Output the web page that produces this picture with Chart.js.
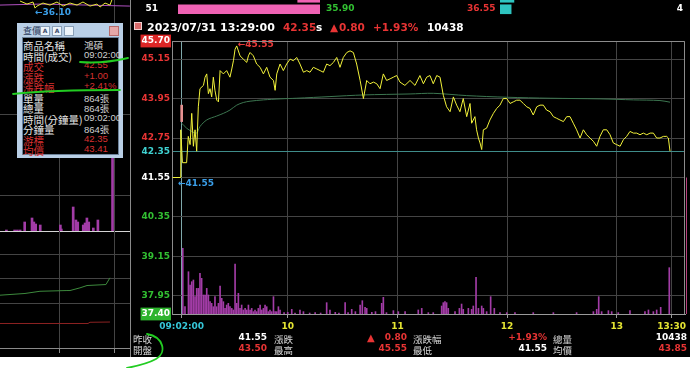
<!DOCTYPE html>
<html>
<head>
<meta charset="utf-8">
<script src="https://cdn.jsdelivr.net/npm/chart.js@4.4.1/dist/chart.umd.min.js"></script>
<style>
html, body { margin: 0; padding: 0; background: #fff; width: 690px; height: 368px; overflow: hidden; }
#win { position: absolute; left: 0; top: 0; width: 690px; height: 357px; background: #000; overflow: hidden; }
canvas { position: absolute; }
.t { position: absolute; white-space: nowrap; line-height: 12px; height: 12px; }
.num { font: bold 9px "DejaVu Sans", Verdana, sans-serif; }
.cjk { font: 9.5px "Noto Sans CJK TC", sans-serif; color: #d8d8d8; }
#box { position: absolute; left: 17px; top: 23px; width: 106px; height: 135px; background: #b9cfe6; }
#boxIn { position: absolute; left: 5px; top: 14px; width: 97px; height: 118px; background: #000; border: 1px solid #6d8299; box-sizing: border-box; }
.ico { position: absolute; top: 3px; width: 8px; height: 8px; border: 1px solid #8aa0b8; background: #eef4fa;
       font: bold 6px "DejaVu Sans"; color: #3a4a6a; line-height: 8px; text-align: center; }
#strokes { position: absolute; left: 0; top: 0; pointer-events: none; }
</style>
</head>
<body>
<div id="win">
  <canvas id="leftTop" width="130" height="232" style="left:0px;top:0px"></canvas>
  <canvas id="leftBot" width="130" height="126" style="left:0px;top:231px"></canvas>
  <div style="position:absolute;left:130px;top:0px;width:1px;height:357px;background:#8a8a8a"></div>
  <canvas id="bid" width="142" height="23" style="left:178px;top:-8px"></canvas>
  <canvas id="ask" width="142" height="23" style="left:500px;top:-8px"></canvas>
  <canvas id="main" width="560" height="305" style="left:130px;top:30px"></canvas>
  <div style="position:absolute;left:134px;top:22px;width:6px;height:6px;background:#d86a6a;border:1px solid #f0d0d0"></div>
  <div id="box">
    <div class="t" style="left:6px;top:1px;font:9px 'Noto Sans CJK TC';color:#2a3a5a">查價</div>
    <div class="ico" style="left:23px">A</div>
    <div class="ico" style="left:35px">A</div>
    <div class="ico" style="left:47px"></div>
    <div class="ico" style="left:92px;background:#e6a8a8;border-color:#b86a6a"></div>
    <div id="boxIn"></div>
  </div>
</div>
<svg id="strokes" width="690" height="368">
  <g fill="none" stroke="#22cc22" stroke-width="1.8" stroke-linecap="round">
    <path d="M80 62 Q102 64 128 58"/>
    <path d="M13 94 Q50 90 120 90"/>
    <path d="M147 334 C164 337 167 353 156 359 C147 364 137 366 127 368"/>
  </g>
</svg>
<script>
// main intraday chart, minutes after 09:00
const priceTimes = [
    -3, 1.1, 1.5, 2.4, 4.7, 5.6, 6.6, 7.5, 8.4, 9.3,
    10.2, 11.1, 12.0, 13.9, 14.8, 15.7, 16.6, 17.5, 18.4, 19.3,
    20.2, 21.2, 22.1, 23.0, 24.8, 26.6, 28.4, 29.4, 30.3, 31.2,
    32.1, 33.9, 35.7, 37.6, 38.5, 39.4, 41.2, 43.0, 44.9, 46.7,
    48.5, 50.3, 52.2, 53.1, 54.0, 55.8, 57.6, 59.4, 61.3, 63.1,
    64.9, 66.7, 68.6, 70.4, 72.2, 74.0, 75.9, 77.7, 79.5, 81.3,
    83.1, 85.0, 86.8, 88.6, 90.4, 92.3, 94.1, 95.9, 97.7, 99.6,
    101.4, 103.2, 105.0, 106.9, 108.7, 110.5, 112.3, 114.1, 116.0, 117.8,
    119.6, 121.4, 124.1, 126.9, 129.6, 132.3, 134.2, 136.0, 137.8, 139.6,
    141.5, 143.3, 145.1, 146.9, 148.8, 150.6, 152.4, 154.2, 156.0, 157.9,
    159.7, 160.6, 162.4, 163.3, 164.3, 165.2, 166.1, 167.0, 168.8, 170.6,
    172.5, 174.3, 176.1, 177.9, 179.8, 181.6, 183.4, 185.2, 187.0, 188.9,
    190.7, 192.5, 194.3, 196.2, 198.0, 199.8, 201.6, 203.5, 205.3, 207.1,
    208.9, 210.8, 212.6, 214.4, 216.2, 218.0, 219.9, 221.7, 223.5, 225.3,
    227.2, 229.0, 230.8, 232.6, 234.5, 236.3, 238.1, 239.9, 241.8, 243.6,
    245.4, 247.2, 249.1, 250.9, 252.7, 254.5, 256.4, 258.2, 260.0, 261.8,
    263.6, 265.5, 267.3, 268.2, 269.1
];
const prices = [
    41.55, 41.55, 43.00, 42.00, 42.00, 42.80, 42.55, 43.50, 42.50, 43.00,
    42.35, 43.70, 44.25, 44.35, 44.60, 44.70, 44.10, 44.25, 44.00, 44.60,
    44.20, 43.90, 43.85, 44.80, 44.70, 44.80, 44.60, 44.85, 45.10, 45.45,
    45.55, 45.25, 45.15, 45.05, 45.25, 45.35, 45.25, 45.00, 44.90, 44.70,
    44.90, 44.60, 44.50, 44.20, 44.70, 45.00, 44.80, 45.00, 45.15, 45.10,
    45.20, 45.00, 44.75, 44.80, 44.75, 44.90, 44.85, 44.80, 44.75, 45.00,
    44.95, 45.05, 45.20, 44.90, 45.20, 45.35, 45.40, 45.35, 45.00, 44.50,
    43.95, 44.50, 44.40, 44.45, 44.40, 44.25, 44.70, 44.50, 44.55, 44.60,
    44.65, 44.45, 44.35, 44.50, 44.35, 44.65, 44.40, 44.60, 44.65, 44.40,
    44.65, 44.60, 44.05, 43.70, 43.55, 44.00, 43.75, 43.55, 43.95, 43.40,
    43.80, 43.20, 43.40, 43.00, 42.75, 42.60, 42.40, 43.00, 43.05, 43.30,
    43.50, 43.65, 43.75, 43.95, 43.95, 43.80, 43.85, 43.90, 43.90, 43.80,
    43.70, 43.65, 43.45, 43.70, 43.75, 43.75, 43.60, 43.55, 43.40, 43.35,
    43.30, 43.25, 43.40, 43.40, 43.20, 43.00, 42.75, 43.00, 42.85, 42.75,
    42.65, 42.50, 42.80, 43.00, 43.00, 42.85, 42.60, 42.55, 42.50, 42.70,
    42.80, 42.95, 42.90, 42.90, 42.85, 42.90, 42.85, 42.90, 42.90, 42.75,
    42.75, 42.80, 42.80, 42.75, 42.35
];
const avgTimes = [2.0, 4.7, 7.5, 10.2, 12.0, 15.7, 21.2, 24.8, 28.4, 32.1, 35.7, 39.4, 46.7,
    55.8, 64.9, 83.1, 101.4, 126.9, 139.6, 157.9, 179.8, 203.5, 230.8, 249.1, 263.6, 269.1];
const avgPrices = [43.20, 43.05, 42.95, 42.90, 43.10, 43.30, 43.42, 43.50, 43.60, 43.75, 43.83, 43.87, 43.91,
    43.94, 43.96, 44.01, 44.06, 44.09, 44.11, 44.04, 43.99, 43.96, 43.94, 43.91, 43.89, 43.84];
const volTimes = [
    2.6, 3.8, 5.7, 6.6, 7.5, 8.4, 9.3, 10.2, 11.1, 12.0,
    12.9, 13.9, 14.8, 15.7, 16.6, 17.5, 18.4, 19.3, 20.2, 21.1,
    22.1, 23.0, 23.9, 24.8, 25.7, 26.6, 27.5, 28.4, 29.4, 30.3,
    31.2, 32.1, 33.0, 33.9, 34.8, 35.7, 36.7, 37.6, 38.5, 39.4,
    40.3, 41.2, 42.1, 43.0, 43.9, 44.9, 45.8, 46.7, 47.6, 48.5,
    49.4, 50.3, 51.2, 52.2, 53.1, 54.0, 54.9, 55.8, 58.0, 60.0,
    62.2, 64.0, 66.7, 68.6, 72.0, 75.0, 78.0, 81.3, 83.1, 86.0,
    88.0, 91.4, 93.0, 95.0, 97.0, 99.6, 100.8, 102.3, 103.2, 106.0,
    108.0, 111.4, 112.3, 114.0, 117.8, 120.5, 124.2, 131.4, 133.3, 136.9,
    139.6, 144.2, 145.1, 146.0, 146.9, 147.8, 151.5, 153.9, 155.1, 156.0,
    158.8, 160.6, 161.5, 163.0, 164.3, 166.1, 167.0, 168.8, 171.0, 173.0,
    176.1, 179.8, 184.3, 194.3, 205.3, 218.0, 227.2, 229.0, 230.1, 231.7,
    235.4, 237.2, 240.8, 247.2, 255.4, 257.3, 260.0, 261.8, 264.0, 268.7
];
const vols = [
    864, 96, 556, 381, 425, 447, 228, 337, 337, 534,
    469, 250, 250, 337, 250, 162, 140, 96, 228, 96,
    140, 368, 206, 162, 74, 118, 140, 96, 74, 53,
    657, 140, 272, 74, 118, 53, 74, 53, 118, 53,
    74, 31, 53, 31, 74, 118, 53, 74, 118, 96,
    31, 53, 31, 228, 31, 31, 96, 53, 18, 22,
    61, 13, 53, 31, 13, 18, 13, 149, 53, 22,
    13, 149, 18, 61, 31, 118, 175, 88, 74, 22,
    31, 140, 219, 18, 44, 31, 31, 53, 74, 18,
    18, 105, 149, 162, 149, 74, 31, 74, 131, 61,
    74, 61, 105, 482, 74, 105, 74, 31, 228, 74,
    18, 18, 18, 18, 18, 18, 31, 61, 228, 31,
    44, 31, 18, 44, 31, 53, 31, 53, 88, 609
];
const openBar = [43.25, 43.75];
const priceTicks = [45.70, 45.15, 43.95, 42.75, 42.35, 41.55, 40.35, 39.15, 37.95, 37.40];
const timeTicks = [2, 60, 120, 180, 240, 270];
const timeLabels = ['09:02:00', '10', '11', '12', '13', '13:30'];

// the window behind, on the left
const leftPriceTimes = [136.9, 144.5, 151.1, 153.3, 155.4, 162.0, 169.6, 177.3, 183.9, 191.5,
    199.2, 205.7, 213.4, 221.0, 224.3, 229.8, 235.2, 238.5];
const leftPrices = [36.17, 36.14, 36.16, 36.10, 36.12, 36.15, 36.13, 36.16, 36.12, 36.15,
    36.13, 36.16, 36.12, 36.14, 36.11, 36.15, 36.13, 36.21];
const leftAvgTimes = [115, 160, 210, 257];
const leftAvg = [36.13, 36.14, 36.13, 36.12];
const leftVolTimes = [122, 131, 134, 137, 142, 150, 152, 154, 159, 181, 182, 195, 198, 200, 206, 208, 210, 212, 217, 222, 238];
const leftVols = [10, 10, 10, 10, 90, 130, 90, 70, 60, 60, 20, 240, 110, 90, 60, 80, 130, 90, 30, 110, 900];
const leftIndTimes = [115, 142.3, 158.7, 188.2, 191.5, 202.4, 210.1, 230.8, 235.2];
const leftInd = [-13.6, -12.2, -10.4, -9.8, -9.8, -7.6, -5.7, -4.9, 0.6];
const leftSigTimes = [115, 211.2, 213.4, 235.2];
const leftSig = [-36.7, -36.7, -35.7, -35.5];

// order book rows peeking in at the top
const bidVols = [8, 51];
const bidPrices = ['35.95', '35.90'];
const askPrices = ['36.50', '36.55'];
const askVols = [5, 4];

const infoLabels = ['商品名稱', '時間(成交)', '成交', '漲跌', '漲跌幅', '單量', '總量', '時間(分鐘量)', '分鐘量', '游標', '均價'];
const infoValues = ['鴻碩', '09:02:00', '42.55', '+1.00', '+2.41%', '864張', '864張', '09:02:00', '864張', '42.35', '43.41'];
const infoRed = [false, false, true, true, true, false, false, false, false, true, true];

const sumLabels = [['昨收', '漲跌', '漲跌幅', '總量'], ['開盤', '最高', '最低', '均價']];
const sumValues = [['41.55', '0.80', '+1.93%', '10438'], ['43.50', '45.55', '41.55', '43.85']];
const sumColors = [['#ffffff', '#e83434', '#e83434', '#ffffff'], ['#e83434', '#e83434', '#ffffff', '#e83434']];

const RED = '#e83434';
const GREEN = '#32c032';
const GRID = '#444444';

Chart.defaults.font.family = '"DejaVu Sans", Verdana, sans-serif';
Chart.defaults.animation = false;
Chart.defaults.plugins.legend.display = false;
Chart.defaults.plugins.tooltip.enabled = false;

const win = document.getElementById('win');

function pts(xs, ys) {
    return xs.map((x, i) => ({ x: x, y: ys[i] }));
}

function put(parent, x, y, text, cls, color, alignRight) {
    const el = document.createElement('div');
    el.className = 't ' + cls;
    el.textContent = text;
    el.style.top = (y - 6) + 'px';
    if (color) el.style.color = color;
    if (alignRight) {
        el.style.left = (x - 120) + 'px';
        el.style.width = '120px';
        el.style.textAlign = 'right';
    } else {
        el.style.left = x + 'px';
    }
    parent.appendChild(el);
    return el;
}

function extremeLabel(times, values, kind, color, scaleId, dx, dy) {
    return {
        id: 'extreme',
        afterDatasetsDraw(chart) {
            let k = 0;
            values.forEach((v, i) => {
                if (kind === 'max' ? v > values[k] : v <= values[k]) k = i;
            });
            const ctx = chart.ctx;
            const px = chart.scales.x.getPixelForValue(times[k]);
            const py = chart.scales[scaleId].getPixelForValue(values[k]);
            ctx.save();
            ctx.font = 'bold 9px "DejaVu Sans"';
            ctx.textBaseline = 'middle';
            ctx.fillStyle = color;
            ctx.fillText('\u2190' + values[k].toFixed(2), px + dx, py + dy);
            ctx.restore();
        }
    };
}

const framePlugin = {
    id: 'frame',
    afterDraw(chart) {
        const { ctx, chartArea: a } = chart;
        const mid = chart.scales.y.getPixelForValue(41.55);
        ctx.save();
        ctx.lineWidth = 1;
        ctx.strokeStyle = '#8c8c8c';
        ctx.beginPath();
        ctx.moveTo(a.left, a.top + 0.5);
        ctx.lineTo(a.right - 0.5, a.top + 0.5);
        ctx.lineTo(a.right - 0.5, a.bottom);
        ctx.stroke();
        ctx.strokeStyle = '#b8427e';
        ctx.beginPath();
        ctx.moveTo(a.right + 1.5, mid);
        ctx.lineTo(a.right + 1.5, a.bottom);
        ctx.stroke();
        ctx.restore();
    }
};

function priceColor(v) {
    if (v === 45.70 || v === 41.55 || v === 37.40) return '#ffffff';
    if (v === 42.35) return '#3fd2d2';
    return v > 42.35 ? RED : GREEN;
}

new Chart(document.getElementById('main'), {
    type: 'bar',
    data: {
        datasets: [
            {
                type: 'line',
                data: pts(priceTimes, prices),
                borderColor: '#f2f23a',
                borderWidth: 1,
                pointRadius: 0,
                tension: 0,
                yAxisID: 'y',
                order: 1
            },
            {
                type: 'line',
                data: pts(avgTimes, avgPrices),
                borderColor: '#3c7650',
                borderWidth: 1,
                pointRadius: 0,
                tension: 0.3,
                yAxisID: 'y',
                order: 2
            },
            {
                type: 'bar',
                data: pts(volTimes, vols),
                backgroundColor: '#a23ca6',
                barThickness: 1,
                grouped: false,
                yAxisID: 'v',
                order: 4
            },
            {
                type: 'bar',
                data: [{ x: 2, y: openBar }],
                backgroundColor: '#e89292',
                barThickness: 2,
                grouped: false,
                yAxisID: 'y',
                order: 3
            }
        ]
    },
    options: {
        responsive: false,
        layout: { padding: { top: 11, right: 5, bottom: 0, left: 0 } },
        scales: {
            x: {
                type: 'linear',
                min: -3.3,
                max: 277.3,
                offset: false,
                afterBuildTicks: s => { s.ticks = timeTicks.map(v => ({ value: v })); },
                afterFit: s => { s.height = 21; },
                ticks: {
                    autoSkip: false,
                    maxRotation: 0,
                    padding: 3,
                    font: { size: 9, weight: 'bold' },
                    color: ctx => ctx.index === 0 ? '#35c6d8' : '#e6e632',
                    callback: (v, i) => timeLabels[i]
                },
                grid: {
                    offset: false,
                    color: ctx => ctx.index === 0 ? '#7fa8aa' : GRID,
                    tickColor: '#9a9a9a',
                    tickLength: 4
                },
                border: { color: '#9a9a9a' }
            },
            y: {
                type: 'linear',
                position: 'left',
                min: 37.40,
                max: 45.70,
                afterBuildTicks: s => { s.ticks = priceTicks.map(v => ({ value: v })); },
                afterFit: s => { s.width = 42; },
                ticks: {
                    autoSkip: false,
                    padding: 2,
                    font: { size: 9, weight: 'bold' },
                    color: ctx => priceColor(ctx.tick.value),
                    showLabelBackdrop: true,
                    backdropPadding: { x: 1, y: 1 },
                    backdropColor: ctx => ctx.tick.value === 45.70 ? '#dc2626' : ctx.tick.value === 37.40 ? '#2db42d' : 'rgba(0,0,0,0)',
                    callback: v => v.toFixed(2)
                },
                grid: {
                    drawTicks: false,
                    color: ctx => ctx.tick.value === 42.35 ? '#3f8c8a' : GRID
                },
                border: { color: '#8c8c8c' }
            },
            v: {
                type: 'linear',
                display: false,
                min: 0,
                max: 3590
            }
        }
    },
    plugins: [
        framePlugin,
        extremeLabel(priceTimes, prices, 'max', '#ea3a3a', 'y', 1, -1),
        extremeLabel(priceTimes, prices, 'min', '#3a9ee8', 'y', -2, 6)
    ]
});

// left window: price + volume
new Chart(document.getElementById('leftTop'), {
    type: 'bar',
    data: {
        datasets: [
            {
                type: 'line',
                data: pts(leftPriceTimes, leftPrices),
                borderColor: '#e8e838',
                borderWidth: 1,
                pointRadius: 0,
                yAxisID: 'yp'
            },
            {
                type: 'line',
                data: pts(leftAvgTimes, leftAvg),
                borderColor: '#b050c0',
                borderWidth: 1,
                pointRadius: 0,
                yAxisID: 'yp'
            },
            {
                type: 'bar',
                data: pts(leftVolTimes, leftVols),
                backgroundColor: '#a23ca6',
                barThickness: 2,
                grouped: false,
                yAxisID: 'v'
            }
        ]
    },
    options: {
        responsive: false,
        layout: { padding: 0 },
        scales: {
            x: {
                type: 'linear', min: 115, max: 257.1, offset: false,
                afterBuildTicks: s => { s.ticks = [{ value: 180 }, { value: 240 }]; },
                afterFit: s => { s.height = 1; },
                ticks: { display: false },
                grid: { color: GRID, drawTicks: false, offset: false },
                border: { color: '#d4d4d4' }
            },
            yp: {
                type: 'linear', position: 'left', min: 33.90, max: 36.18,
                afterBuildTicks: s => { s.ticks = [{ value: 34.25 }, { value: 35.05 }]; },
                afterFit: s => { s.width = 0; },
                ticks: { display: false },
                grid: { color: GRID, drawTicks: false },
                border: { display: false }
            },
            v: { type: 'linear', display: false, min: 0, max: 2310 }
        }
    },
    plugins: [extremeLabel(leftPriceTimes, leftPrices, 'min', '#3a9ee8', 'yp', 0, 5)]
});

// left window: indicator panel
new Chart(document.getElementById('leftBot'), {
    type: 'line',
    data: {
        datasets: [
            { data: pts(leftIndTimes, leftInd), borderColor: '#3d8a3d', borderWidth: 1, pointRadius: 0 },
            { data: pts(leftSigTimes, leftSig), borderColor: '#8c2222', borderWidth: 1, pointRadius: 0 }
        ]
    },
    options: {
        responsive: false,
        layout: { padding: 0 },
        scales: {
            x: {
                type: 'linear', min: 115, max: 257.1,
                afterBuildTicks: s => { s.ticks = [{ value: 180 }, { value: 240 }]; },
                afterFit: s => { s.height = 9; },
                ticks: { display: false },
                grid: { color: GRID, tickColor: '#8a8a8a', tickLength: 5 },
                border: { color: '#8a8a8a' }
            },
            y: {
                type: 'linear', min: -56.7, max: 38.8,
                afterBuildTicks: s => { s.ticks = [{ value: -20 }, { value: 0 }, { value: 20 }]; },
                afterFit: s => { s.width = 0; },
                ticks: { display: false },
                grid: { color: GRID, drawTicks: false },
                border: { display: false }
            }
        }
    }
});

function bookChart(id, values, color, reverse) {
    new Chart(document.getElementById(id), {
        type: 'bar',
        data: {
            labels: values.map((v, i) => 'r' + i),
            datasets: [{ data: values, backgroundColor: color, barThickness: 9 }]
        },
        options: {
            indexAxis: 'y',
            responsive: false,
            layout: { padding: 0 },
            scales: {
                x: { display: false, min: 0, max: 51, reverse: reverse },
                y: { display: false }
            }
        }
    });
}
bookChart('bid', bidVols, '#f062b4', true);
bookChart('ask', askVols, '#2ec4c0', false);

// header line
put(win, 147, 27, '2023/07/31 13:29:00', '', '#ffffff').style.font = 'bold 11px "DejaVu Sans"';
[['42.35', 283, RED], ['s', 316, '#ffffff'], ['\u25B2', 330, RED], ['0.80', 339, RED], ['+1.93%', 373, RED], ['10438', 427, '#ffffff']]
    .forEach(([s, x, c]) => { put(win, x, 27, s, '', c).style.font = 'bold 10.5px "DejaVu Sans"'; });

// order book text
const rowY = [-2, 9];
rowY.forEach((y, i) => {
    put(win, 158, y, String(bidVols[i]), 'num', '#ffffff', true);
    put(win, 326, y, bidPrices[i], 'num', GREEN);
    put(win, 467, y, askPrices[i], 'num', i === 0 ? '#d8d8d8' : RED);
    put(win, 683, y, String(askVols[i]), 'num', '#ffffff', true);
});

// summary rows under the chart
const colX = [[133, 267], [274, 407], [413, 547], [553, 687]];
[338, 349].forEach((y, r) => {
    colX.forEach(([lx, vx], c) => {
        put(win, lx, y, sumLabels[r][c], 'cjk');
        put(win, vx, y, sumValues[r][c], 'num', sumColors[r][c], true);
    });
});
put(win, 367, 338, '\u25B2', '', RED).style.font = 'bold 10px "DejaVu Sans"';

// info box
const box = document.getElementById('box');
infoLabels.forEach((s, i) => {
    const y = 21 + i * 10.5;
    const c = infoRed[i] ? '#d83030' : '#e2e2e2';
    put(box, 6, y, s, '', c).style.font = '10.5px "Noto Sans CJK TC"';
    put(box, 67, y, infoValues[i], '', infoRed[i] ? c : '#d0d0d0').style.font = '9.5px "Liberation Sans", "Noto Sans CJK TC"';
});
</script>
</body>
</html>
